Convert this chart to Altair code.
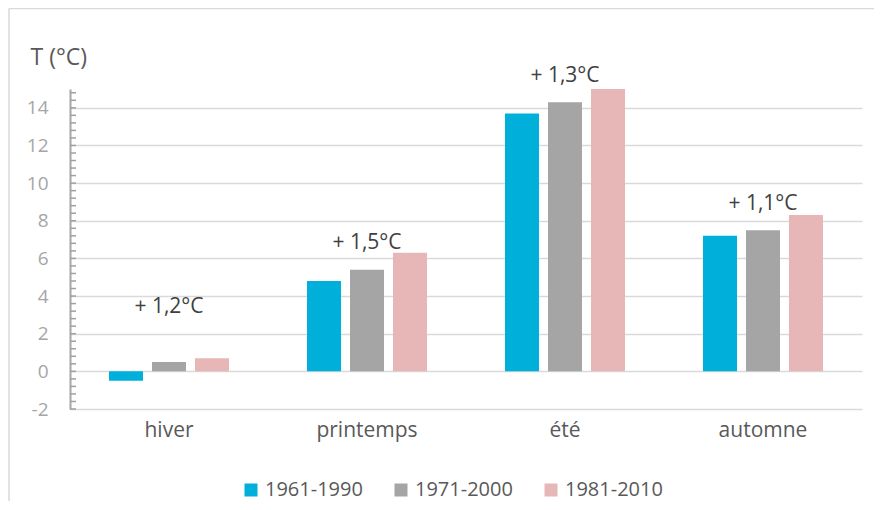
import altair as alt
import pandas as pd

FONT = "Open Sans"

seasons = ["hiver", "printemps", "été", "automne"]
periods = ["1961-1990", "1971-2000", "1981-2010"]
t_1961_1990 = [-0.5, 4.8, 13.7, 7.2]
t_1971_2000 = [0.5, 5.4, 14.3, 7.5]
t_1981_2010 = [0.7, 6.3, 15.0, 8.3]
colors = ["#00B0DA", "#A5A5A5", "#E6B7B6"]
change_labels = ["+ 1,2°C", "+ 1,5°C", "+ 1,3°C", "+ 1,1°C"]
label_y = [3.4, 6.8, 15.7, 8.9]
y_ticks = [-2, 0, 2, 4, 6, 8, 10, 12, 14]
minor_ticks = [round(-2 + 0.4 * i, 1) for i in range(43)]
y_domain = [-2, 15]

rows = []
for period, series in zip(periods, [t_1961_1990, t_1971_2000, t_1981_2010]):
    for s, v in zip(seasons, series):
        rows.append({"season": s, "period": period, "temp": v})
df = pd.DataFrame(rows)
df_labels = pd.DataFrame({"season": seasons, "label": change_labels, "ly": label_y})
df_ticks = pd.DataFrame({"tick": minor_ticks})
one = pd.DataFrame({"a": [0]})

y_scale = alt.Scale(domain=y_domain, nice=False, zero=False)
x_scale = alt.Scale(paddingInner=0.394, paddingOuter=0.197)

x_axis = alt.Axis(title=None, labelFontSize=21, labelColor="#595959",
                  ticks=False, domain=False, labelPadding=10, labelAngle=0,
                  labelFont=FONT, grid=False)
y_axis = alt.Axis(values=y_ticks, title="T (°C)", titleAngle=0, titleX=-40, titleY=-32,
                  titleAlign="left", titleBaseline="middle", titleFontSize=23,
                  titleColor="#595959", titleFontWeight="normal", titleFont=FONT,
                  labelFontSize=19, labelColor="#A6A6A6", labelPadding=22, labelFont=FONT,
                  labelExpr="replace(datum.label, '\u2212', '-')", labelOverlap=False,
                  ticks=False, tickSize=0, domainColor="#A6A6A6", domainWidth=2,
                  gridColor="#D9D9D9", gridWidth=1.5)

bars = alt.Chart(df).mark_bar().encode(
    x=alt.X("season:N", sort=seasons, scale=x_scale, axis=x_axis),
    xOffset=alt.XOffset("period:N", sort=periods,
                        scale=alt.Scale(paddingInner=0.209, paddingOuter=0)),
    y=alt.Y("temp:Q", scale=y_scale, axis=y_axis),
    color=alt.Color("period:N", sort=periods,
                    scale=alt.Scale(domain=periods, range=colors),
                    legend=alt.Legend(title=None, orient="none", direction="horizontal",
                                      legendX=171, legendY=391, symbolType="square",
                                      symbolSize=169, symbolStrokeWidth=0,
                                      labelFontSize=20, labelColor="#595959", labelFont=FONT,
                                      columnPadding=28, padding=0, labelOffset=4)),
)

minor = alt.Chart(df_ticks).mark_rule(color="#A0A0A0", strokeWidth=1.5).encode(
    y=alt.Y("tick:Q", scale=y_scale, axis=y_axis),
    x=alt.value(0), x2=alt.value(6),
)

labels = alt.Chart(df_labels).mark_text(fontSize=21, color="#404040", font=FONT,
                                        baseline="middle").encode(
    x=alt.X("season:N", sort=seasons, scale=x_scale, axis=x_axis),
    y=alt.Y("ly:Q", scale=y_scale, axis=y_axis),
    text="label:N",
)

frame_left = alt.Chart(one).mark_rule(color="#D9D9D9", strokeWidth=1.5).encode(
    x=alt.value(-61), y=alt.value(-80.5), y2=alt.value(420))
frame_top = alt.Chart(one).mark_rule(color="#D9D9D9", strokeWidth=1.5).encode(
    x=alt.value(-61), x2=alt.value(850), y=alt.value(-80.5))

chart = alt.layer(frame_left, frame_top, bars, minor, labels).properties(
    width=792, height=320,
    autosize=alt.AutoSizeParams(type="none"),
    padding={"left": 62, "top": 81, "right": 12, "bottom": 92},
).configure(font=FONT).configure_view(stroke="transparent", strokeWidth=0)

chart.save("out.html", embed_options={"renderer": "svg", "actions": False})
